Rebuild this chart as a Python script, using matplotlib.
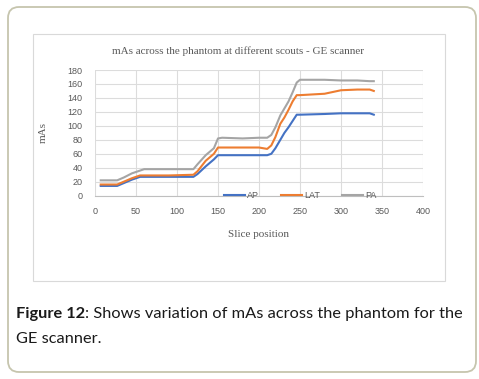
import matplotlib
matplotlib.use("Agg")
import matplotlib.pyplot as plt
from matplotlib.patches import FancyBboxPatch, Rectangle
from matplotlib.transforms import IdentityTransform

# slice positions and mAs per scout
slices = [7, 15, 27, 35, 45, 55, 60, 90, 120, 125, 135, 145, 150, 155, 180,
          200, 210, 215, 220, 226, 231, 236, 241, 246, 250, 280, 300, 320, 335, 340]
ap = [14, 14, 14, 18, 23, 27, 27, 27, 27, 31, 42, 52, 58, 58, 58,
      58, 58, 60, 68, 80, 90, 98, 107, 116, 116, 117, 118, 118, 118, 116]
lat = [16, 16, 16, 20, 25, 29, 29, 29, 30, 35, 50, 60, 69, 69, 69,
       69, 67, 72, 84, 103, 112, 123, 135, 144, 144, 146, 151, 152, 152, 150]
pa = [22, 22, 22, 26, 32, 36, 38, 38, 38, 45, 58, 68, 82, 83, 82,
      83, 83, 87, 98, 115, 125, 135, 148, 162, 166, 166, 165, 165, 164, 164]

W, H = 479, 379
fig = plt.figure(figsize=(W / 100, H / 100), dpi=100)

# outer rounded frame and chart frame
fig.patches.append(FancyBboxPatch((8, 7), 468, 365, boxstyle="round,pad=0,rounding_size=11",
                                  transform=IdentityTransform(), fc="none", ec="#c6c5ae", lw=1.3))
fig.patches.append(Rectangle((33, 98), 412, 247, transform=IdentityTransform(),
                             fc="none", ec="#d9d9d9", lw=0.8))

ax = fig.add_axes([95 / W, 1 - 195.7 / H, 328 / W, 125.7 / H])
ax.plot(slices, ap, color="#4472c4", lw=1.5, label="AP")
ax.plot(slices, lat, color="#ed7d31", lw=1.5, label="LAT")
ax.plot(slices, pa, color="#a5a5a5", lw=1.5, label="PA")

ax.set_xlim(0, 400)
ax.set_ylim(0, 180)
ax.set_xticks(range(0, 401, 50))
ax.set_yticks(range(0, 181, 20))
ax.grid(True, color="#dcdcdc", lw=0.8)
ax.set_axisbelow(True)
for s in ["left", "right", "top"]:
    ax.spines[s].set_visible(False)
ax.spines["bottom"].set_color("#bfbfbf")
ax.tick_params(length=0, labelsize=6.5, labelcolor="#595959", pad=8)
ax.tick_params(axis="y", pad=9)
for lb in ax.get_xticklabels() + ax.get_yticklabels():
    lb.set_family("Liberation Sans")

serif = "Liberation Serif"
fig.text(238 / W, 1 - 51 / H, "mAs across the phantom at different scouts - GE scanner",
         ha="center", va="center", family=serif, fontsize=8, color="#595959")
ax.set_xlabel("Slice position", family=serif, fontsize=8, color="#595959", labelpad=10)
ax.set_ylabel("mAs", family=serif, fontsize=8, color="#595959", labelpad=14)

leg = ax.legend(loc="center", bbox_to_anchor=(300 / W, 1 - 196 / H), bbox_transform=fig.transFigure,
                ncol=3, frameon=False, fontsize=6.5, handlelength=2.4, handletextpad=0.2,
                columnspacing=2.4, borderpad=0)
for t in leg.get_texts():
    t.set_color("#595959")
    t.set_family("Liberation Sans")

# caption
cap = "Lato"
t1 = fig.text(16 / W, 1 - 318.3 / H, "Figure 12", family=cap, weight="bold",
              fontsize=11.8, color="#1a1a1a", va="baseline")
fig.canvas.draw()
bb = t1.get_window_extent()
fig.text(bb.x1 / W, 1 - 318.3 / H, ": Shows variation of mAs across the phantom for the",
         family=cap, fontsize=11.8, color="#1a1a1a", va="baseline")
fig.text(16 / W, 1 - 342.7 / H, "GE scanner.", family=cap, fontsize=11.8,
         color="#1a1a1a", va="baseline")

fig.savefig("out.png", dpi=100, facecolor="white")
